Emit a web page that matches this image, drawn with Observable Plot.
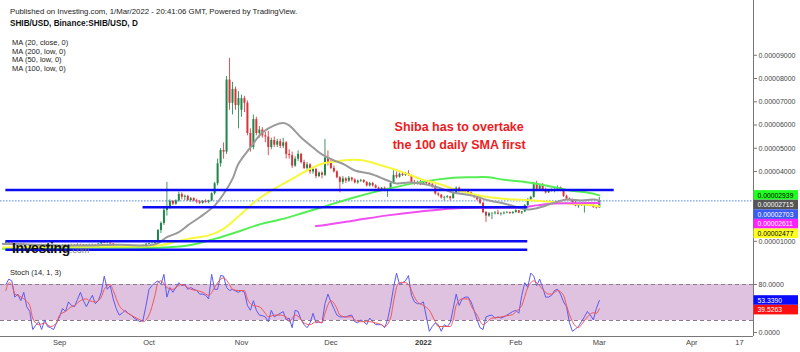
<!DOCTYPE html>
<html><head><meta charset="utf-8">
<script src="https://cdn.jsdelivr.net/npm/d3@7"></script>
<script src="https://cdn.jsdelivr.net/npm/@observablehq/plot@0.6"></script>
<style>
body{margin:0;background:#fff;font-family:Arial,"Liberation Sans",sans-serif;}
#wrap{position:relative;width:800px;height:352px;overflow:hidden;background:#fff}
.abs{position:absolute;white-space:nowrap;line-height:1}
</style></head><body>
<div id="wrap">
  <div id="main" class="abs" style="left:0;top:0"></div>
  <div id="stoch" class="abs" style="left:0;top:262px"></div>
  <div class="abs" style="left:10px;top:8px;font-size:7.8px;color:#222">Published on Investing.com, 1/Mar/2022 - 20:41:06 GMT, Powered by TradingView.</div>
  <div class="abs" style="left:10px;top:20px;font-size:8.2px;font-weight:bold;color:#111">SHIB/USD, Binance:SHIB/USD, D</div>
  <div id="legend" class="abs" style="left:12px;top:39px;font-size:7.5px;color:#222;line-height:8.7px"></div>
  <div class="abs" style="left:12px;top:241px;font-size:14px;font-weight:900;color:#111;letter-spacing:-0.4px">Investing<span style="font-size:9px;font-weight:normal;color:#777;letter-spacing:0">.com</span></div>
  <div class="abs" style="left:10px;top:269px;font-size:7.5px;color:#222">Stoch (14, 1, 3)</div>
</div>
<script>
// ---------- DATA (prices in µUSD = 1e-6 USD; days counted from 2021-09-01) ----------
const legendLines = ["MA (20, close, 0)", "MA (200, low, 0)", "MA (50, low, 0)", "MA (100, low, 0)"];
const firstCandleDay = -19; // 2021-08-13
// [open, high, low, close]
const candlesAug = [[8.3,8.8,8.2,8.6],[8.6,9.3,8.5,8.9],[8.9,9.1,8.6,8.8],[8.8,8.9,8.2,8.4],[8.4,8.7,8.3,8.5],[8.5,8.6,8.2,8.3],[8.3,8.7,8.2,8.5],[8.5,8.6,8.1,8.2],[8.2,8.3,7.9,8.0],[8.0,8.1,7.4,7.5],[7.5,7.9,7.4,7.7],[7.7,7.9,7.6,7.8],[7.8,7.9,7.4,7.5],[7.5,7.7,7.4,7.6],[7.6,7.7,7.3,7.4],[7.4,7.7,7.3,7.6],[7.6,7.7,7.3,7.4],[7.4,7.5,7.2,7.3],[7.3,7.7,7.2,7.6]];
const candlesSep = [[7.7,7.9,7.6,7.8],[7.8,8.1,7.7,8.0],[8.0,8.1,7.8,7.9],[7.9,8.3,7.9,8.2],[8.2,8.3,8.0,8.1],[8.1,8.2,7.9,8.0],[8.0,8.5,7.8,8.3],[8.3,8.4,8.0,8.1],[8.1,8.2,7.8,7.9],[7.9,8.2,7.8,8.1],[8.1,8.4,8.0,8.3],[8.3,8.4,8.0,8.1],[8.1,8.3,8.0,8.2],[8.2,8.6,8.1,8.5],[8.5,9.3,8.4,9.1],[9.1,9.3,8.6,8.7],[8.7,9.0,8.5,8.9],[8.9,9.0,8.4,8.5],[8.5,8.6,8.1,8.2],[8.2,8.3,7.8,7.9],[7.9,8.2,7.7,8.1],[8.1,8.2,7.9,8.0],[8.0,8.1,7.8,7.9],[7.9,8.0,7.6,7.7],[7.7,7.9,7.6,7.8],[7.8,7.9,7.5,7.6],[7.6,7.8,7.5,7.7],[7.7,7.8,7.4,7.5],[7.5,8.0,7.5,7.9],[7.9,8.6,7.8,8.4]];
const candlesOct = [[8.4,8.9,8.3,8.7],[8.7,9.0,8.5,8.8],[8.8,9.4,8.6,9.1],[9.1,14.8,9.0,14.3],[14.3,18.0,13.0,17.3],[17.3,24.0,16.5,22.9],[22.9,35.0,20.5,24.5],[24.5,27.5,23.5,26.8],[26.8,27.2,25.0,25.6],[25.6,27.5,25.2,27.0],[27.0,30.8,26.5,29.8],[29.8,30.5,27.5,28.6],[28.6,29.5,27.0,29.0],[29.0,29.4,26.8,27.2],[27.2,28.5,26.5,28.0],[28.0,28.4,26.6,27.0],[27.0,27.8,25.8,26.6],[26.6,27.2,25.5,26.0],[26.0,27.2,25.6,26.8],[26.8,27.5,26.0,26.4],[26.4,27.3,25.8,27.0],[27.0,30.5,26.8,30.1],[30.1,35.0,29.5,34.4],[34.4,45.0,33.5,43.0],[43.0,49.5,41.5,48.7],[48.7,52.0,45.0,48.0],[48.0,80.5,47.0,79.0],[79.0,88.3,66.0,69.0],[69.0,78.0,64.0,75.0],[75.0,76.0,66.0,68.0],[68.0,74.0,58.0,71.0]];
const candlesNov = [[66.0,72.5,63.0,71.0],[71.0,72.0,65.0,69.0],[69.0,70.0,55.0,56.0],[56.0,58.0,48.0,50.0],[50.0,64.0,49.0,62.0],[62.0,63.0,55.0,56.0],[56.0,59.0,54.0,57.5],[57.5,58.5,54.0,55.0],[55.0,56.5,52.0,54.5],[54.5,57.0,46.5,50.0],[50.0,54.0,49.0,53.0],[53.0,54.5,50.0,51.0],[51.0,53.5,50.0,52.5],[52.5,53.5,49.5,50.5],[50.5,54.0,49.5,52.0],[52.0,52.5,45.0,47.0],[47.0,49.0,45.0,46.5],[46.5,48.0,41.0,42.0],[42.0,46.0,41.5,45.0],[45.0,48.5,44.0,47.0],[47.0,47.5,43.0,43.5],[43.5,44.5,40.5,41.0],[41.0,43.5,40.0,42.5],[42.5,43.0,38.5,39.5],[39.5,41.5,38.5,40.5],[40.5,41.0,36.5,37.5],[37.5,39.5,37.0,39.0],[39.0,39.5,36.5,38.0],[38.0,53.5,37.5,45.5],[45.5,48.5,42.0,43.5]];
const candlesDec = [[43.5,45.0,40.5,41.0],[41.0,42.0,39.0,39.5],[39.5,40.0,36.5,37.0],[37.0,37.5,30.5,35.0],[35.0,37.5,34.0,36.5],[36.5,37.0,34.5,35.5],[35.5,37.5,35.0,36.8],[36.8,37.2,35.2,36.0],[36.0,36.5,34.3,34.8],[34.8,36.0,34.2,35.5],[35.5,36.3,35.0,35.8],[35.8,36.2,34.5,35.0],[35.0,35.3,33.0,33.5],[33.5,35.0,33.0,34.5],[34.5,35.0,33.0,33.5],[33.5,34.0,32.2,32.5],[32.5,33.0,31.2,31.8],[31.8,32.8,31.5,32.5],[32.5,33.0,31.0,31.5],[31.5,32.5,28.5,32.0],[32.0,34.8,31.8,34.5],[34.5,40.0,34.2,38.0],[38.0,39.5,36.5,37.2],[37.2,39.0,36.8,38.5],[38.5,39.0,37.5,38.0],[38.0,39.2,37.5,38.8],[38.8,40.0,37.5,38.0],[38.0,38.2,34.5,35.0],[35.0,35.8,33.8,34.5],[34.5,35.5,33.8,35.0],[35.0,35.8,33.5,34.0]];
const candlesJan = [[34.0,35.5,33.8,35.0],[35.0,35.5,34.0,34.5],[34.5,35.0,33.5,34.0],[34.0,34.5,32.5,33.0],[33.0,33.8,29.5,30.0],[30.0,30.5,28.8,29.5],[29.5,29.8,27.8,28.3],[28.3,29.0,27.0,28.5],[28.5,29.3,28.0,28.8],[28.8,29.0,27.0,28.0],[28.0,30.5,27.8,30.0],[30.0,33.0,29.8,32.5],[32.5,33.0,30.5,31.0],[31.0,32.0,30.5,31.5],[31.5,32.0,30.8,31.2],[31.2,31.8,30.2,30.5],[30.5,30.8,28.8,29.0],[29.0,29.5,28.0,28.5],[28.5,29.0,27.0,27.5],[27.5,29.0,25.5,26.0],[26.0,26.3,21.5,22.0],[22.0,22.5,17.8,20.5],[20.5,22.0,20.0,21.5],[21.5,22.0,19.0,21.5],[21.5,22.5,21.0,21.8],[21.8,23.0,21.0,21.3],[21.3,22.0,20.5,21.5],[21.5,22.3,21.0,21.8],[21.8,22.5,21.5,22.0],[22.0,22.3,21.2,21.6],[21.6,22.5,21.2,22.0]];
const candlesFeb = [[22.0,23.2,21.8,22.8],[22.8,23.0,21.5,21.8],[21.8,22.5,21.2,22.3],[22.3,25.5,22.0,25.0],[25.0,28.0,24.5,27.5],[27.5,29.0,27.0,28.5],[28.5,35.0,28.2,34.0],[34.0,35.5,31.0,32.0],[32.0,34.0,31.5,33.5],[33.5,34.5,31.0,31.5],[31.5,32.5,30.0,30.5],[30.5,32.0,30.2,31.5],[31.5,32.2,30.8,31.2],[31.2,32.3,30.5,31.8],[31.8,33.5,31.5,32.8],[32.8,33.0,31.0,31.5],[31.5,31.8,28.5,29.0],[29.0,29.5,27.3,27.8],[27.8,28.3,27.0,27.5],[27.5,27.8,25.8,26.2],[26.2,27.5,24.5,24.8],[24.8,25.8,23.8,25.2],[25.2,26.0,24.6,25.0],[25.0,25.3,21.8,25.3],[25.3,26.0,24.8,25.6],[25.6,26.0,24.5,24.8],[24.8,25.5,23.8,24.2],[24.2,24.8,23.5,24.0]];
const candlesMar = [[24.0,28.5,23.8,27.03]];

// moving averages: [day, value µUSD]
const ma20Close = [[-19,8.5],[-10,8.3],[0,7.9],[10,7.9],[20,8.2],[30,7.9],[33,8.8],[36,11.4],[40,13.6],[43,16.5],[47,20],[52,25],[55,30],[58,36.5],[60,43],[64,50],[68,56.4],[72,59.5],[75,60.5],[77,59.5],[81,54.3],[85,50],[88,47],[92,44.4],[95,43],[99,40.1],[104,38.8],[110,35.8],[113,34.5],[117,34.9],[121,34.5],[127,32.8],[132,30.6],[138,29.4],[144,27.2],[149,25.9],[155,23.8],[157,23.3],[161,24.2],[166,26.3],[170,27.6],[175,27.2],[179,27.6],[181,27.15]];
const ma50Low = [[-19,7.0],[0,7.3],[20,7.4],[33,7.8],[43,10.7],[50,12.2],[55,15],[61,21.5],[66,27.2],[72,32.2],[78,36.5],[83,40.1],[88,43],[94,44.3],[99,44.7],[102,44.4],[110,41.5],[115,39.4],[121,36.5],[127,34.4],[132,32.2],[138,30.1],[144,28.6],[149,27.9],[155,27.5],[160,27.1],[166,26.5],[171,25.8],[177,25.4],[181,24.77]];
const ma100Low = [[-19,6.4],[0,6.8],[20,6.9],[33,6.9],[43,7.85],[52,10.7],[61,14.3],[67,16.9],[74,19],[81,21.6],[88,24.3],[99,28.6],[110,32.2],[121,35.1],[132,37],[138,37.2],[144,37.2],[149,36.1],[155,35.4],[160,34.4],[166,32.9],[171,31.5],[177,30.6],[181,29.39]];
const ma200Low = [[86,16.2],[88,16.45],[99,18.6],[110,20.8],[121,22.5],[132,23.8],[143,24.1],[155,24.2],[160,25.1],[166,25.9],[172,26.0],[177,26.1],[181,26.11]];

// drawn horizontal levels
const levelValues = [31.7, 24.3, 9.7, 6.0];
const levelFrom = [-18, 28, -18, -18];
const levelTo = [186, 157, 157, 157];
const lastClose = 27.03;

// price scale labels (right) : last values
const priceLabelNames = ["MA100", "MA20", "Close", "MA200", "MA50"];
const priceLabelValues = [29.39, 27.15, 27.03, 26.11, 24.77];
// 0.00002000 and 0.00003000 are hidden behind the value labels in the reference
const priceTicks = [10, 40, 50, 60, 70, 80, 90];

// annotation
const noteText = "Shiba has to overtake\nthe 100 daily SMA first";
const noteDay = 134, noteValue = 55.6;

// stochastic %K and %D: [day, value]
const stochK = [[-18,80],[-17,89],[-16,86],[-15,59],[-14,64],[-13,53],[-12,67],[-11,43],[-10,35],[-9,5],[-8,12],[-7,18],[-6,5],[-5,21],[-4,10],[-3,8],[-2,5],[-1,16],[0,26],[1,40],[2,35],[3,51],[4,45],[5,43],[6,55],[7,67],[8,53],[9,43],[10,53],[11,62],[12,48],[13,53],[14,67],[15,94],[16,72],[17,78],[18,56],[19,40],[20,29],[21,32],[22,37],[23,32],[24,29],[25,24],[26,21],[27,18],[28,21],[29,45],[30,72],[31,78],[32,83],[33,86],[34,80],[35,97],[36,59],[37,75],[38,67],[39,75],[40,83],[41,78],[42,80],[43,72],[44,75],[45,72],[46,70],[47,64],[48,64],[49,62],[50,56],[51,97],[52,72],[53,72],[54,95],[55,94],[56,75],[57,70],[58,72],[59,69],[60,67],[61,70],[62,67],[63,45],[64,37],[65,53],[66,37],[67,29],[68,28],[69,26],[70,18],[71,37],[72,26],[73,29],[74,32],[75,35],[76,21],[77,24],[78,8],[79,37],[80,35],[81,21],[82,13],[83,8],[84,16],[85,32],[86,16],[87,18],[88,16],[89,48],[90,64],[91,51],[92,40],[93,29],[94,26],[95,26],[96,26],[97,28],[98,29],[99,18],[100,16],[101,21],[102,18],[103,13],[104,24],[105,18],[106,13],[107,13],[108,13],[109,8],[110,21],[111,45],[112,75],[113,99],[114,80],[115,83],[116,86],[117,95],[118,62],[119,51],[120,48],[121,48],[122,51],[123,26],[124,2],[125,10],[126,16],[127,13],[128,2],[129,13],[130,10],[131,16],[132,40],[133,64],[134,45],[135,56],[136,59],[137,59],[138,51],[139,37],[140,21],[141,8],[142,5],[143,26],[144,28],[145,29],[146,24],[147,26],[148,24],[149,26],[150,29],[151,32],[152,35],[153,37],[154,32],[155,62],[156,83],[157,75],[158,99],[159,94],[160,78],[161,89],[162,75],[163,59],[164,59],[165,62],[166,70],[167,72],[168,64],[169,51],[170,43],[171,16],[172,2],[173,6],[174,10],[175,18],[176,26],[177,35],[178,29],[179,21],[180,40],[181,53.339]];
const stochD = [[-18,70],[-17,83],[-16,80],[-15,64],[-14,62],[-12,56],[-10,45],[-9,24],[-7,13],[-5,16],[-3,10],[-1,16],[0,29],[2,35],[4,43],[5,45],[7,53],[9,56],[10,53],[12,51],[14,59],[15,72],[17,80],[18,70],[20,45],[22,35],[23,32],[25,26],[27,21],[28,18],[30,29],[32,62],[33,83],[34,86],[36,75],[38,72],[39,75],[41,80],[43,75],[44,72],[46,70],[48,67],[50,62],[52,75],[53,83],[55,91],[57,80],[58,72],[60,70],[62,70],[63,56],[65,45],[67,43],[69,32],[70,26],[72,29],[74,29],[76,26],[77,18],[79,29],[80,27],[82,16],[84,13],[86,18],[88,16],[89,32],[91,53],[93,40],[94,29],[96,26],[98,26],[99,21],[101,18],[103,18],[104,18],[106,16],[108,13],[109,10],[111,24],[112,51],[113,75],[114,83],[116,83],[117,80],[119,59],[120,51],[122,45],[124,37],[126,18],[127,10],[129,10],[131,10],[132,21],[133,45],[135,56],[137,56],[138,45],[140,29],[142,13],[143,16],[145,24],[147,25],[148,26],[150,28],[152,30],[153,35],[155,45],[157,75],[159,86],[160,83],[162,72],[164,64],[165,64],[167,70],[169,62],[170,45],[172,18],[174,8],[175,13],[177,26],[179,33],[180,32],[181,39.5263]];
const stochBand = [20, 80];
const stochTicks = [0, 80];

// time axis
const monthTickDays = [0, 30, 61, 91, 122, 153, 181, 212, 228];
const monthTickLabels = ["Sep", "Oct", "Nov", "Dec", "2022", "Feb", "Mar", "Apr", "17"];

// ---------- LAYOUT / STYLE ----------
document.getElementById("legend").innerHTML = legendLines.join("<br>");
const W = 800, AXIS_X = 753;
const xDomain = [-19.8, 232.7];
const xs = Plot.scale({x: {domain: xDomain, range: [0, AXIS_X]}});
const mainY = {domain: [0, 113.2], range: [263.25, 0]};
const ysMain = Plot.scale({y: mainY});
const font = "Arial, 'Liberation Sans', sans-serif";
const UP = "#1f8548", DOWN = "#d9343a";

const candles = [...candlesAug, ...candlesSep, ...candlesOct, ...candlesNov, ...candlesDec, ...candlesJan, ...candlesFeb, ...candlesMar]
  .map((c, i) => ({d: firstCandleDay + i, o: c[0], h: c[1], l: c[2], c: c[3], up: c[3] >= c[0]}));
const levels = levelValues.map((v, i) => ({v, from: levelFrom[i], to: levelTo[i]}));

function stackLabels(values, ys, h) {
  let prev = -Infinity;
  return values.map(v => { const p = Math.max(ys.apply(v), prev + h); prev = p; return p; });
}
const LBL_H = 9.6;
const labelX1 = xs.invert(AXIS_X + 0.5), labelX2 = xs.invert(W - 2), labelXT = xs.invert(AXIS_X + 4);
const priceLabelFill = ["#22ff22", "#555555", "#3b5cf0", "#ff22ff", "#ffff22"];
const priceLabelInk = ["#000", "#fff", "#fff", "#fff", "#000"];
const mainPos = stackLabels(priceLabelValues, ysMain, LBL_H);
const mainLabels = priceLabelValues.map((v, i) => ({
  y1: ysMain.invert(mainPos[i] - LBL_H / 2), y2: ysMain.invert(mainPos[i] + LBL_H / 2), y: ysMain.invert(mainPos[i]),
  text: (v / 1e6).toFixed(8), fill: priceLabelFill[i], ink: priceLabelInk[i]
}));

const main = Plot.plot({
  width: W, height: 262, marginLeft: 0, marginRight: W - AXIS_X, marginTop: 0, marginBottom: 0,
  x: {domain: xDomain, axis: null},
  y: {...mainY, axis: null},
  style: {fontFamily: font, background: "transparent", overflow: "visible", color: "#444"},
  marks: [
    Plot.ruleY([lastClose], {x1: xDomain[0], x2: xDomain[1], stroke: "#4f7fe8", strokeWidth: 1, strokeDasharray: "1.5,1.5"}),
    Plot.ruleX(candles, {x: "d", y1: "l", y2: "h", stroke: d => d.up ? UP : DOWN, strokeWidth: 1, strokeOpacity: 0.85}),
    Plot.ruleX(candles, {x: "d", y1: "o", y2: d => Math.abs(d.c - d.o) < 0.15 ? d.o + 0.15 : d.c, stroke: d => d.up ? UP : DOWN, strokeWidth: 2}),
    Plot.line(ma100Low, {x: "0", y: "1", stroke: "#55ee55", strokeWidth: 2, curve: "catmull-rom"}),
    Plot.line(ma50Low, {x: "0", y: "1", stroke: "#f8f83a", strokeWidth: 2, curve: "catmull-rom"}),
    Plot.line(ma200Low, {x: "0", y: "1", stroke: "#f04ef0", strokeWidth: 2, curve: "catmull-rom"}),
    Plot.line(ma20Close, {x: "0", y: "1", stroke: "#9a9a9a", strokeWidth: 2, curve: "catmull-rom"}),
    Plot.ruleY(levels, {y: "v", x1: "from", x2: "to", stroke: "#0c0cf2", strokeWidth: 2.5}),
    Plot.text([noteText], {x: noteDay, y: noteValue, text: d => d, fill: "#ee1c24", fontSize: 12.5, fontWeight: "bold", lineHeight: 1.45}),
    Plot.ruleX([xDomain[1]], {stroke: "#777", strokeWidth: 1}),
    Plot.axisY({anchor: "right", ticks: priceTicks, tickFormat: d => (d / 1e6).toFixed(8), tickSize: 3, tickPadding: 2, fontSize: 7, dy: 0.8, stroke: "#777"}),
    Plot.rect(mainLabels, {x1: labelX1, x2: labelX2, y1: "y1", y2: "y2", fill: "fill"}),
    Plot.text(mainLabels, {x: labelXT, y: "y", text: "text", fill: "ink", textAnchor: "start", fontSize: 6.8})
  ]
});
document.getElementById("main").appendChild(main);

// ---------- Stochastic pane ----------
const stochY = {domain: [0, 100], range: [70, 10]};
const ysSt = Plot.scale({y: stochY});
const stochLabelValues = [stochK[stochK.length - 1][1], stochD[stochD.length - 1][1]];
const stPos = stackLabels(stochLabelValues, ysSt, LBL_H);
const stLabels = stochLabelValues.map((v, i) => ({
  y1: ysSt.invert(stPos[i] - LBL_H / 2), y2: ysSt.invert(stPos[i] + LBL_H / 2), y: ysSt.invert(stPos[i]),
  text: v.toFixed(4), fill: ["#0a0aff", "#ff1010"][i]
}));
const bandRow = [{x1: xDomain[0], x2: xDomain[1], y1: stochBand[0], y2: stochBand[1]}];
const monthTicks = monthTickDays.map((d, i) => ({d, label: monthTickLabels[i]}));

const stoch = Plot.plot({
  width: W, height: 90, marginLeft: 0, marginRight: W - AXIS_X, marginTop: 0, marginBottom: 16,
  x: {domain: xDomain, axis: null},
  y: {...stochY, axis: null},
  style: {fontFamily: font, background: "transparent", overflow: "visible", color: "#444"},
  marks: [
    Plot.rect(bandRow, {x1: "x1", x2: "x2", y1: "y1", y2: "y2", fill: "#dfc2df"}),
    Plot.ruleY(stochBand, {x1: xDomain[0], x2: xDomain[1], stroke: "#8d7a8d", strokeDasharray: "4,3"}),
    Plot.line(stochK, {x: "0", y: "1", stroke: "#5a5af2", strokeWidth: 1}),
    Plot.line(stochD, {x: "0", y: "1", stroke: "#f25656", strokeWidth: 1, curve: "monotone-x"}),
    Plot.ruleX([xDomain[1]], {y1: ysSt.invert(-1), y2: ysSt.invert(74), stroke: "#777"}),
    Plot.ruleY([ysSt.invert(74)], {x1: xDomain[0], x2: xDomain[1], stroke: "#777"}),
    Plot.axisY({anchor: "right", ticks: stochTicks, tickFormat: d => d.toFixed(4), tickSize: 3, tickPadding: 2, fontSize: 7, stroke: "#777"}),
    Plot.text(monthTicks.filter(t => t.label !== "2022"), {x: "d", text: "label", frameAnchor: "bottom", dy: 8, fontSize: 7.5, fill: "#444"}),
    Plot.text(monthTicks.filter(t => t.label === "2022"), {x: "d", text: "label", frameAnchor: "bottom", dy: 8, fontSize: 7.5, fontWeight: "bold", fill: "#333"}),
    Plot.rect(stLabels, {x1: labelX1, x2: labelX2, y1: "y1", y2: "y2", fill: "fill"}),
    Plot.text(stLabels, {x: labelXT, y: "y", text: "text", fill: "#fff", textAnchor: "start", fontSize: 6.8})
  ]
});
document.getElementById("stoch").appendChild(stoch);
</script>
</body></html>
